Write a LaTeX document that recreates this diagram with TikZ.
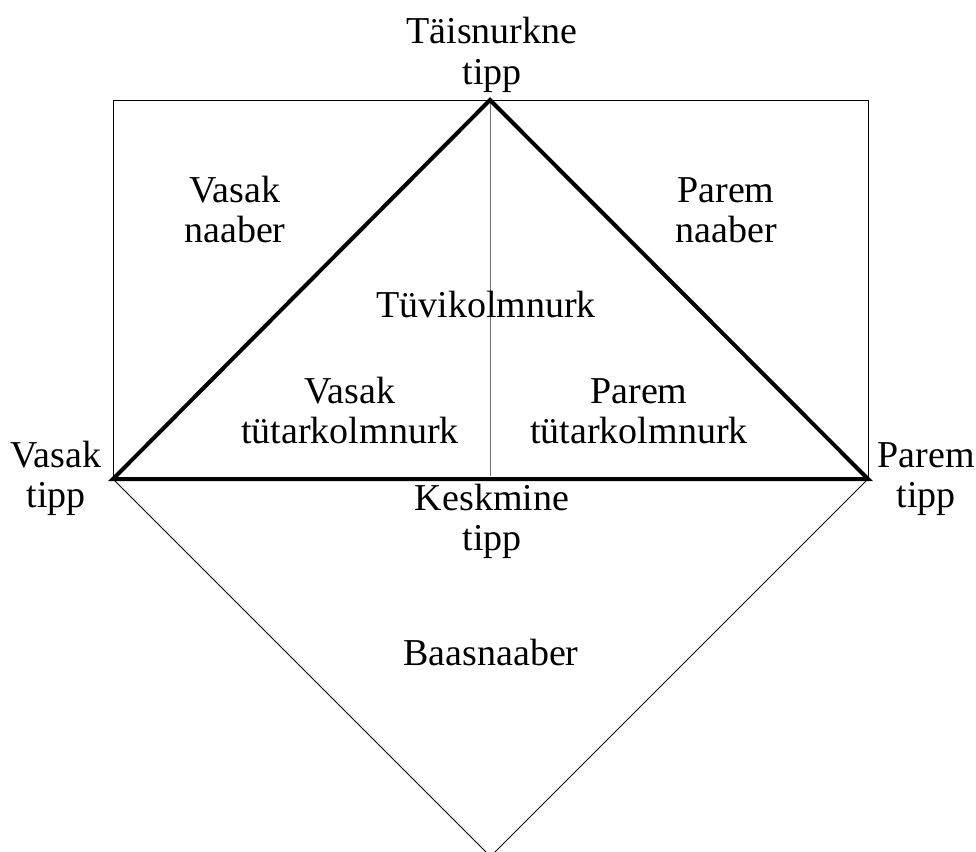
\documentclass[tikz,border=0pt]{standalone}
\usepackage{fontspec}
\setmainfont{Liberation Serif}
\begin{document}
\begin{tikzpicture}[x=1pt,y=-1pt,
  lbl/.style={anchor=base,align=center,inner sep=0pt,font=\fontsize{38}{40}\selectfont},
  thin line/.style={line width=1pt,black},
  thick line/.style={line width=4pt,black,line join=miter},
  mid line/.style={line width=1pt,black!55}]
\useasboundingbox (0,0) rectangle (976,851);
\coordinate (A) at (490,100);
\coordinate (L) at (113,479);
\coordinate (R) at (868,479);
\coordinate (TL) at (113,100);
\coordinate (TR) at (868,100);
\coordinate (B) at (490.5,856.5);
\coordinate (M) at (490,476);
% rectangle sides
\draw[thin line] (L) -- (TL) -- (TR) -- (R);
% base neighbour
\draw[thin line] (L) -- (B) -- (R);
% middle line
\draw[mid line] (A) -- (M);
% triangle
\draw[thick line] (L) -- (A) -- (R) -- cycle;
% labels (anchor = baseline of the last line)
\node[lbl] (ttop) at (492,84) {Täisnurkne\\tipp};
\node[lbl] (vn) at (235,242) {Vasak\\naaber};
\node[lbl] (pn) at (726,242) {Parem\\naaber};
\node[lbl] (tk) at (486,317) {Tüvikolmnurk};
\node[lbl] (vt) at (350,443) {Vasak\\tütarkolmnurk};
\node[lbl] (pt) at (639,443) {Parem\\tütarkolmnurk};
\node[lbl] (vtp) at (56,507) {Vasak\\tipp};
\node[lbl] (ptp) at (926,507) {Parem\\tipp};
\node[lbl] (kt) at (492,550) {Keskmine\\tipp};
\node[lbl] (bn) at (491,665) {Baasnaaber};
\end{tikzpicture}
\end{document}
